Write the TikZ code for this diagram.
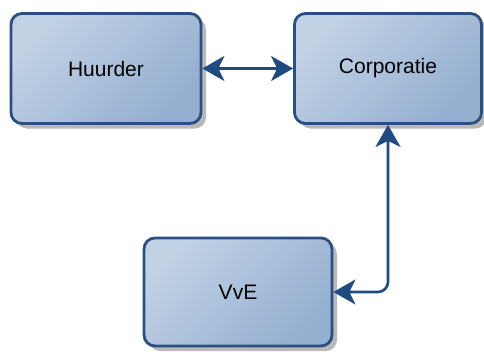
\documentclass[tikz,border=0pt]{standalone}
\usepackage{fontspec}
\setmainfont{Liberation Sans}
\usetikzlibrary{arrows.meta,shadows,patterns}
\definecolor{boxborder}{HTML}{2A5082}
\definecolor{boxlight}{HTML}{C2D2E5}
\definecolor{boxdark}{HTML}{94AFD0}
\definecolor{arrowblue}{HTML}{1F4C80}
\tikzset{
  entity/.style={rectangle, rounded corners=11pt, draw=boxborder, line width=2.8pt,
    top color=boxlight, bottom color=boxdark, shading angle=45,
    font=\fontsize{21}{24}\selectfont, text=black,
    general shadow={shadow xshift=5pt, shadow yshift=-5pt, fill=gray!55},
    inner sep=0pt},
  link/.style={draw=arrowblue, line width=2.6pt,
    >={Stealth[length=22pt,width=25pt,inset=6pt]}, <->}
}
\begin{document}
\begin{tikzpicture}[x=1pt,y=1pt]
\useasboundingbox (0,0) rectangle (484,-351);
\node[entity, minimum width=190pt, minimum height=110pt] (hu) at (106,-68.5) {Huurder};
\node[entity, minimum width=187pt, minimum height=110pt] (co) at (388,-68.5) {Corporatie};
\node[entity, minimum width=188pt, minimum height=108pt] (vve) at (238,-292) {VvE};
\draw[link] (hu.east) -- (co.west);
\draw[link, rounded corners=10pt] (co.south) |- (vve.east);
\end{tikzpicture}
\end{document}
